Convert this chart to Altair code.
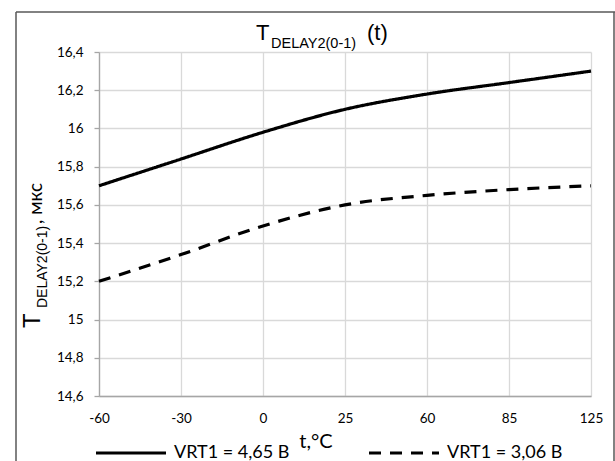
import altair as alt
import pandas as pd

# ---- data ----
temps = [-60, -30, 0, 25, 60, 85, 125]
vrt_465 = [15.70, 15.84, 15.98, 16.10, 16.18, 16.24, 16.30]
vrt_306 = [15.20, 15.34, 15.49, 15.60, 15.65, 15.68, 15.70]
series_names = ["VRT1 = 4,65 В", "VRT1 = 3,06 В"]
y_ticks = [14.6, 14.8, 15.0, 15.2, 15.4, 15.6, 15.8, 16.0, 16.2, 16.4]

rows = []
for name, vals in zip(series_names, [vrt_465, vrt_306]):
    for t, v in zip(temps, vals):
        rows.append({"t": t, "v": v, "s": name})
df = pd.DataFrame(rows)

W, H = 492, 344
CAL = "Lato, 'Noto Sans', sans-serif"
ARIAL = "'Liberation Sans', Arial, sans-serif"
GRID = "#d9d9d9"
AXIS = "#a6a6a6"

lines = alt.Chart(df).mark_line(
    strokeWidth=3.2, color="black", interpolate="monotone"
).encode(
    x=alt.X(
        "t:O",
        scale=alt.Scale(type="point", padding=0),
        axis=alt.Axis(
            grid=True, gridColor=GRID, gridWidth=1.3,
            domainColor=AXIS, domainWidth=1.3,
            ticks=False, tickSize=0,
            labelPadding=22, labelBaseline="middle", labelAngle=0,
            labelFont=CAL, labelFontSize=13.5, labelColor="black",
            title=None,
        ),
    ),
    y=alt.Y(
        "v:Q",
        scale=alt.Scale(domain=[14.6, 16.4], nice=False, zero=False),
        axis=alt.Axis(
            values=y_ticks,
            labelExpr="replace(format(datum.value, '.1~f'), '.', ',')",
            grid=True, gridColor=GRID, gridWidth=1.3,
            domainColor=AXIS, domainWidth=1.3,
            tickColor=AXIS, tickSize=5, tickWidth=1.3,
            labelPadding=11, labelFont=CAL, labelFontSize=13.5, labelColor="black",
            title=None,
        ),
    ),
    strokeDash=alt.StrokeDash(
        "s:N",
        sort=series_names,
        scale=alt.Scale(domain=series_names, range=[[1, 0], [12, 9]]),
        legend=alt.Legend(
            orient="none", legendX=-5, legendY=364, direction="horizontal",
            title=None, symbolType="stroke", symbolSize=4900,
            symbolStrokeWidth=3.2, symbolStrokeColor="black",
            labelFont=CAL, labelFontSize=18, labelColor="black",
            labelOffset=6, columnPadding=72, padding=0, labelLimit=0,
        ),
    ),
)

def txt(s, x, y, font, size, angle=0, align="left", baseline="alphabetic"):
    return alt.Chart(pd.DataFrame({"s": [s]})).mark_text(
        font=font, fontSize=size, angle=angle, align=align,
        baseline=baseline, color="black"
    ).encode(x=alt.value(x), y=alt.value(y), text="s:N")

# title  T_DELAY2(0-1) (t)
title_parts = [
    txt("T", 157, -12, ARIAL, 22),
    txt("DELAY2(0-1)", 172, -4, ARIAL, 14.5),
    txt("(t)", 268, -12, ARIAL, 22),
]
# y title  T_DELAY2(0-1), мкс   (rotated)
ytitle_parts = [
    txt("T", -59, 276, ARIAL, 24, angle=270),
    txt("DELAY2(0-1)", -52, 256, ARIAL, 14, angle=270),
    txt(", мкс", -57, 172, CAL, 19, angle=270),
]
xtitle = txt("t,°C", 217, 396, CAL, 20, align="center")

# outer chart-area border
border_left = alt.Chart(pd.DataFrame({"a": [0]})).mark_rule(
    color="#595959", strokeWidth=1.5).encode(
    x=alt.value(-83), y=alt.value(-40), y2=alt.value(420))
border_top = alt.Chart(pd.DataFrame({"a": [0]})).mark_rule(
    color="#595959", strokeWidth=1.5).encode(
    x=alt.value(-83), x2=alt.value(516), y=alt.value(-40))
border_right = alt.Chart(pd.DataFrame({"a": [0]})).mark_rule(
    color="#595959", strokeWidth=1.5).encode(
    x=alt.value(515), y=alt.value(-40), y2=alt.value(420))

chart = alt.layer(
    lines, *title_parts, *ytitle_parts, xtitle,
    border_left, border_top, border_right,
).properties(
    width=W, height=H,
    padding={"left": 99, "top": 52, "right": 24, "bottom": 65},
    autosize=alt.AutoSizeParams(type="none"),
    background="white",
).configure_view(stroke=None)

chart.save("out.html", embed_options={"renderer": "svg", "actions": False})
